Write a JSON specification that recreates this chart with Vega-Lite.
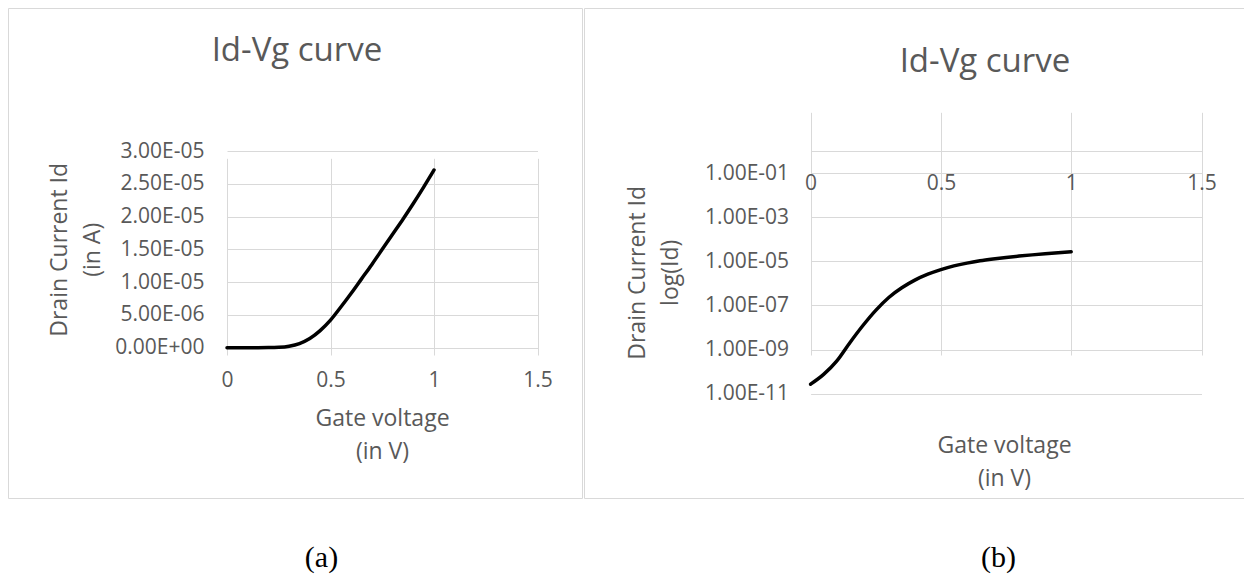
{
  "$schema": "https://vega.github.io/schema/vega-lite/v6.json",
  "padding": {"left": 7, "top": 7, "right": -2, "bottom": 2},
  "background": "white",
  "bounds": "flush",
  "spacing": 538,
  "config": {
    "font": "Open Sans",
    "view": {"stroke": "#d9d9d9", "strokeWidth": 1},
    "axis": {
      "labelFont": "Open Sans", "titleFont": "Open Sans",
      "labelColor": "#595959", "titleColor": "#595959",
      "labelFontSize": 21, "titleFontSize": 23, "titleFontWeight": "normal",
      "titleLineHeight": 33, "gridColor": "#d9d9d9", "gridWidth": 1,
      "ticks": false, "domain": false, "labelFlush": false, "labelOverlap": false
    },
    "title": {"font": "Open Sans", "fontSize": 33, "fontWeight": "normal", "color": "#595959"}
  },
  "datasets": {
    "iv": [
      {"Vg": 0, "Id": 2.7e-11},
      {"Vg": 0.05, "Id": 7.5e-11},
      {"Vg": 0.1, "Id": 3.0e-10},
      {"Vg": 0.15, "Id": 2.0e-9},
      {"Vg": 0.2, "Id": 1.2e-8},
      {"Vg": 0.25, "Id": 6.0e-8},
      {"Vg": 0.3, "Id": 2.3e-7},
      {"Vg": 0.35, "Id": 6.3e-7},
      {"Vg": 0.4, "Id": 1.4e-6},
      {"Vg": 0.45, "Id": 2.6e-6},
      {"Vg": 0.5, "Id": 4.2e-6},
      {"Vg": 0.55, "Id": 6.2e-6},
      {"Vg": 0.6, "Id": 8.3e-6},
      {"Vg": 0.65, "Id": 1.05e-5},
      {"Vg": 0.7, "Id": 1.27e-5},
      {"Vg": 0.75, "Id": 1.5e-5},
      {"Vg": 0.8, "Id": 1.73e-5},
      {"Vg": 0.85, "Id": 1.96e-5},
      {"Vg": 0.9, "Id": 2.2e-5},
      {"Vg": 0.95, "Id": 2.45e-5},
      {"Vg": 1.0, "Id": 2.71e-5}
    ]
  },
  "vconcat": [
    {
      "hconcat": [
        {
          "width": 574, "height": 490,
          "title": {"text": "Id-Vg curve", "offset": -60, "dx": 2},
          "data": {"name": "iv"},
          "mark": {"type": "line", "color": "black", "strokeWidth": 3.5, "interpolate": "monotone", "strokeCap": "round"},
          "encoding": {
            "x": {
              "field": "Vg", "type": "quantitative",
              "scale": {"domain": [0, 1.5], "range": [219, 529.5], "nice": false},
              "axis": {
                "values": [0, 0.5, 1, 1.5], "format": "~g", "offset": -150.3,
                "labelBaseline": "middle", "labelPadding": 33,
                "title": ["Gate voltage", "(in V)"], "titleX": 374, "titleY": 60,
                "titleAlign": "center", "titleBaseline": "top", "titleAngle": 0
              }
            },
            "y": {
              "field": "Id", "type": "quantitative",
              "scale": {"domain": [0, 3e-5], "range": [339.7, 143], "nice": false, "zero": false},
              "axis": {
                "values": [0, 5e-6, 1e-5, 1.5e-5, 2e-5, 2.5e-5, 3e-5],
                "labelExpr": "replace(replace(format(datum.value,'.2e'),regexp('e([+-])([0-9])$'),'e$10$2'),'e','E')",
                "offset": -219, "labelPadding": 23, "labelBaseline": "middle", "labelAlign": "right",
                "title": ["Drain Current Id", "(in A)"], "titleX": -178.5, "titleY": 241.3,
                "titleAngle": 270, "titleAlign": "center", "titleBaseline": "top"
              }
            }
          }
        },
        {
          "width": 662, "height": 490,
          "title": {"text": "Id-Vg curve", "offset": -71, "dx": 70},
          "data": {"name": "iv"},
          "mark": {"type": "line", "color": "black", "strokeWidth": 3.5, "interpolate": "monotone", "strokeCap": "round"},
          "encoding": {
            "x": {
              "field": "Vg", "type": "quantitative",
              "scale": {"domain": [0, 1.5], "range": [226.6, 617.5], "nice": false},
              "axis": {
                "values": [0, 0.5, 1, 1.5], "format": "~g", "offset": -324.7,
                "labelBaseline": "middle", "labelPadding": 10,
                "title": ["Gate voltage", "(in V)"], "titleX": 420, "titleY": 261.5,
                "titleAlign": "center", "titleBaseline": "top", "titleAngle": 0
              }
            },
            "y": {
              "field": "Id", "type": "quantitative",
              "scale": {"type": "log", "domain": [1e-11, 1], "range": [385.7, 143], "nice": false},
              "axis": {
                "values": [1e-11, 1e-9, 1e-7, 1e-5, 1e-3, 1e-1, 1],
                "labelExpr": "datum.value >= 0.5 ? '' : replace(replace(format(datum.value,'.2e'),regexp('e([+-])([0-9])$'),'e$10$2'),'e','E')",
                "offset": -226.6, "labelPadding": 22, "labelBaseline": "middle", "labelAlign": "right",
                "title": ["Drain Current Id", "log(Id)"], "titleX": -184.6, "titleY": 264.3,
                "titleAngle": 270, "titleAlign": "center", "titleBaseline": "top"
              }
            }
          }
        }
      ],
      "spacing": 2,
      "bounds": "flush"
    },
    {
      "hconcat": [
        {
          "width": 627, "height": 24,
          "view": {"stroke": null},
          "data": {"values": [{"cap": "(a)"}]},
          "mark": {"type": "text", "font": "Liberation Serif", "fontSize": 30, "color": "black", "baseline": "middle", "align": "center"},
          "encoding": {"text": {"field": "cap", "type": "nominal"}}
        },
        {
          "width": 127, "height": 24,
          "view": {"stroke": null},
          "data": {"values": [{"cap": "(b)"}]},
          "mark": {"type": "text", "font": "Liberation Serif", "fontSize": 30, "color": "black", "baseline": "middle", "align": "center"},
          "encoding": {"text": {"field": "cap", "type": "nominal"}}
        }
      ],
      "spacing": 300,
      "bounds": "flush"
    }
  ]
}
